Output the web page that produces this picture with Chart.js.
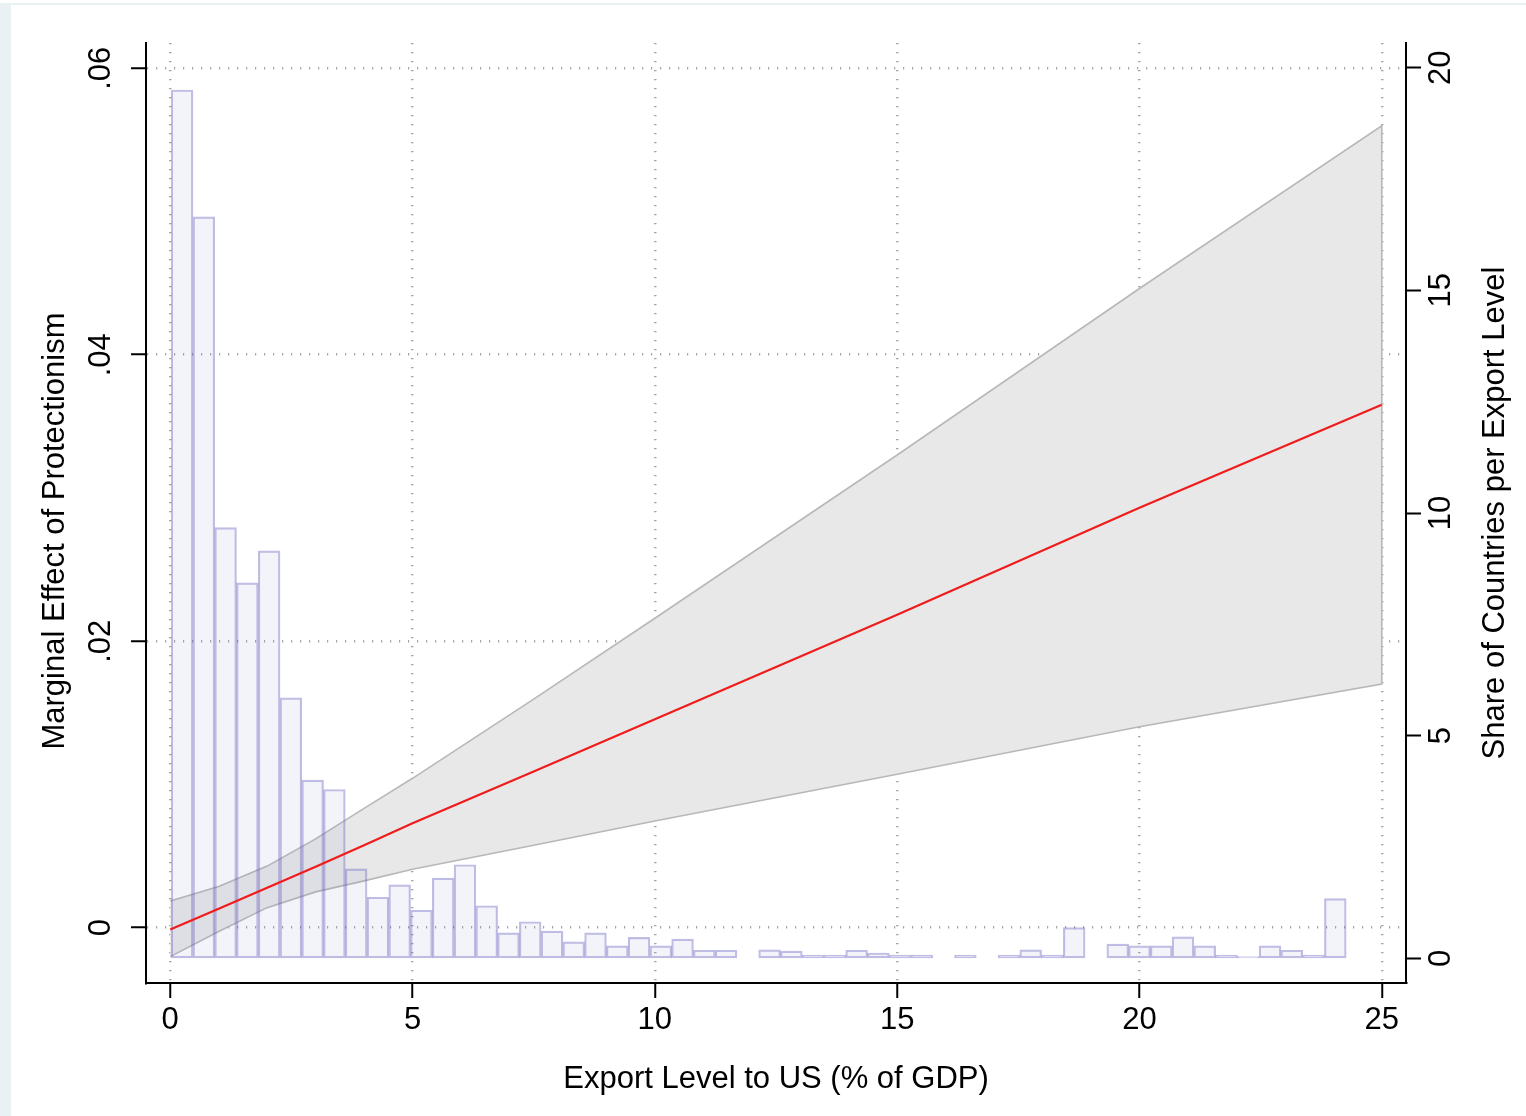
<!DOCTYPE html>
<html><head><meta charset="utf-8">
<script src="https://cdn.jsdelivr.net/npm/chart.js@4.4.1/dist/chart.umd.min.js"></script>
<style>
html,body{margin:0;padding:0;background:#fff;}
#wrap{position:relative;width:1526px;height:1116px;overflow:hidden;background:#fff;}
#edgeL{position:absolute;left:0;top:3px;width:11px;bottom:0;background:#eaf1f3;}
#edgeT{position:absolute;left:0;top:3px;right:0;height:2px;background:#eaf1f3;}
canvas{position:absolute;left:0;top:0;}
</style></head><body>
<div id="wrap"><div id="edgeL"></div><div id="edgeT"></div><canvas id="c" width="1526" height="1116"></canvas></div>
<script>
// ---------- data ----------
const binStart = 0.02;      // left edge of first histogram bin
const binWidth = 0.449;     // histogram bin width
const shareCounts = [
  19.50, 16.65, 9.67, 8.43, 9.15, 5.85, 4.00, 3.79, 2.01, 1.37,
  1.65, 1.08, 1.80, 2.10, 1.18, 0.57, 0.82, 0.61, 0.37, 0.57,
  0.28, 0.47, 0.28, 0.43, 0.18, 0.18, null, 0.19, 0.16, 0.07,
  0.07, 0.18, 0.12, 0.07, 0.07, null, 0.07, null, 0.07, 0.19,
  0.07, 0.69, null, 0.32, 0.28, 0.28, 0.48, 0.28, 0.07, 0.04,
  0.28, 0.18, 0.07, 1.34
];
const ciX     = [0, 1, 2, 3, 4, 5, 7.5, 10, 15, 20, 25];
const ciUpper = [0.00186, 0.00288, 0.0043, 0.0062, 0.00833, 0.01043, 0.01596, 0.0216, 0.0330, 0.04462, 0.05598];
const ciLower = [-0.00202, -0.00026, 0.0014, 0.0025, 0.00327, 0.00408, 0.00575, 0.00745, 0.01071, 0.01403, 0.01701];
const meY     = [-0.00013, 0.00132, 0.00279, 0.00426, 0.00575, 0.00729, 0.0109, 0.01455, 0.02185, 0.02932, 0.0365];
const xTickValues = [0, 5, 10, 15, 20, 25];
const leftTickValues = [0, 0.02, 0.04, 0.06];
const leftTickLabels = ['0', '.02', '.04', '.06'];
const rightTickValues = [0, 5, 10, 15, 20];
const xTitle = 'Export Level to US (% of GDP)';
const yLeftTitle = 'Marginal Effect of Protectionism';
const yRightTitle = 'Share of Countries per Export Level';

// ---------- build datasets ----------
const FONT = '"Liberation Sans", Arial, Helvetica, sans-serif';
const FS = 31;
const histData = shareCounts.map((v, i) => ({x: binStart + (i + 0.5) * binWidth, y: v}));
const bandData = ciX.map((x, i) => ({x: x, y: ciUpper[i]}))
  .concat(ciX.slice().reverse().map((x, k) => ({x: x, y: ciLower[ciX.length - 1 - k]})));
const meData = ciX.map((x, i) => ({x: x, y: meY[i]}));

const gridStyle = {
  color: 'rgba(135,135,135,0.75)', lineWidth: 2.5, drawTicks: true, tickLength: 15,
  tickColor: '#000', tickWidth: 2, tickBorderDash: [], offset: false
};
const borderStyle = {display: true, color: '#000', width: 2, dash: [1.2, 7.8]};

const yTitlesPlugin = {
  id: 'yTitles',
  afterDraw(chart) {
    const {ctx, chartArea: a} = chart;
    const mid = (a.top + a.bottom) / 2;
    ctx.save();
    ctx.fillStyle = '#000';
    ctx.font = FS + 'px ' + FONT;
    ctx.textAlign = 'center';
    ctx.textBaseline = 'middle';
    ctx.translate(55, mid + 18);
    ctx.rotate(-Math.PI / 2);
    ctx.fillText(yLeftTitle, 0, 0);
    ctx.restore();
    ctx.save();
    ctx.fillStyle = '#000';
    ctx.font = FS + 'px ' + FONT;
    ctx.textAlign = 'center';
    ctx.textBaseline = 'middle';
    ctx.translate(1495, mid);
    ctx.rotate(-Math.PI / 2);
    ctx.fillText(yRightTitle, 0, 0);
    ctx.restore();
  }
};

new Chart(document.getElementById('c'), {
  data: {
    datasets: [
      {
        type: 'line', label: 'ME', data: meData, yAxisID: 'y', xAxisID: 'x',
        borderColor: '#f01c1c', borderWidth: 2.2, pointRadius: 0, tension: 0, fill: false, order: 1
      },
      {
        type: 'bar', label: 'share', data: histData, yAxisID: 'y1', xAxisID: 'x',
        backgroundColor: 'rgba(120,120,205,0.09)', borderColor: 'rgba(105,100,190,0.42)',
        borderWidth: 1.5, borderSkipped: false, barPercentage: 1, categoryPercentage: 1, order: 2
      },
      {
        type: 'line', label: 'CI', data: bandData, yAxisID: 'y', xAxisID: 'x',
        borderColor: '#b8b8b8', borderWidth: 1.6, backgroundColor: '#e8e8e8',
        pointRadius: 0, tension: 0, fill: 'shape', order: 3
      }
    ]
  },
  options: {
    responsive: false, animation: false, devicePixelRatio: 1,
    layout: {padding: {top: 43, left: 0, right: 0, bottom: 0}},
    plugins: {legend: {display: false}, tooltip: {enabled: false}},
    scales: {
      x: {
        type: 'linear', position: 'bottom', min: -0.5, max: 25.5, offset: false,
        afterBuildTicks: s => { s.ticks = xTickValues.map(v => ({value: v})); },
        afterFit: s => { s.height = 133; },
        grid: gridStyle, border: borderStyle,
        ticks: {color: '#000', font: {family: FONT, size: FS}, padding: 4, minRotation: 0, maxRotation: 0, autoSkip: false},
        title: {display: true, text: xTitle, color: '#000', font: {family: FONT, size: FS}, padding: {top: 0, bottom: 18}}
      },
      y: {
        type: 'linear', position: 'left', min: -0.00386, max: 0.06176,
        afterBuildTicks: s => { s.ticks = leftTickValues.map(v => ({value: v})); },
        afterFit: s => { s.width = 146; },
        grid: gridStyle, border: borderStyle,
        ticks: {color: '#000', font: {family: FONT, size: FS}, padding: 8, minRotation: 90, maxRotation: 90,
                crossAlign: 'center', autoSkip: false, callback: (v, i) => leftTickLabels[i]}
      },
      y1: {
        type: 'linear', position: 'right', min: -0.5547, max: 20.555,
        afterBuildTicks: s => { s.ticks = rightTickValues.map(v => ({value: v})); },
        afterFit: s => { s.width = 120; },
        grid: {drawOnChartArea: false, drawTicks: true, tickLength: 15, tickColor: '#000', tickWidth: 2},
        border: {display: true, color: '#000', width: 2},
        ticks: {color: '#000', font: {family: FONT, size: FS}, padding: 3, minRotation: 90, maxRotation: 90,
                crossAlign: 'center', autoSkip: false, callback: (v) => String(v)}
      }
    }
  },
  plugins: [yTitlesPlugin]
});
</script>
</body></html>
